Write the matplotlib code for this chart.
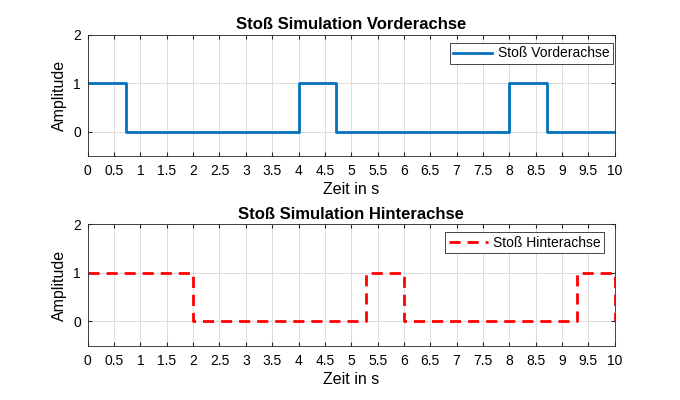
import matplotlib.pyplot as plt

plt.rcParams['font.family'] = ['Liberation Sans', 'DejaVu Sans']

# Stoss-Zeitpunkte (Treppenfunktion, Wert gilt ab dem Zeitpunkt)
t_vorn = [0, 0.72, 4, 4.72, 8, 8.72, 10]
y_vorn = [1, 0, 1, 0, 1, 0, 0]
t_hinten = [0, 2, 5.28, 6, 9.28, 10]
y_hinten = [1, 0, 1, 0, 1, 0]

xticks = [i * 0.5 for i in range(21)]
xlabels = ['%g' % x for x in xticks]

fig = plt.figure(figsize=(6.8, 4), dpi=100)
ax1 = fig.add_axes([0.129, 0.61, 0.775, 0.3025])
ax2 = fig.add_axes([0.129, 0.136, 0.775, 0.303])

ax1.step(t_vorn, y_vorn, where='post', color='#0072BD', lw=2, label='Stoß Vorderachse')
ax2.step(t_hinten, y_hinten, where='post', color='red', lw=2, ls=(0, (4, 2.5)), label='Stoß Hinterachse')

titles = ['Stoß Simulation Vorderachse', 'Stoß Simulation Hinterachse']
anchors = [(0.996, 0.934), (0.98, 0.934)]
for ax, title, anc in zip([ax1, ax2], titles, anchors):
    ax.set_xlim(0, 10)
    ax.set_ylim(-0.5, 2)
    ax.set_xticks(xticks)
    ax.set_xticklabels(xlabels)
    ax.set_yticks([0, 1, 2])
    ax.grid(True, color='#dcdcdc', lw=0.7)
    ax.tick_params(direction='in', length=3, labelsize=10, color='#262626', top=True, right=True,
                   labeltop=False, labelright=False)
    ax.tick_params(axis='x', pad=6)
    ax.tick_params(axis='y', pad=5)
    for s in ax.spines.values():
        s.set_color('#262626')
        s.set_linewidth(0.6)
    ax.set_xlabel('Zeit in s', fontsize=11.5, labelpad=3)
    ax.set_ylabel('Amplitude', fontsize=11.5, labelpad=4)
    ax.set_title(title, fontsize=12, fontweight='bold', pad=4)
    leg = ax.legend(loc='upper right', bbox_to_anchor=anc, borderaxespad=0, fontsize=10,
                    fancybox=False, framealpha=1, edgecolor='#262626',
                    handlelength=2.8, handletextpad=0.4, borderpad=0.25)
    leg.get_frame().set_linewidth(0.6)

fig.savefig('out.png', dpi=100)
